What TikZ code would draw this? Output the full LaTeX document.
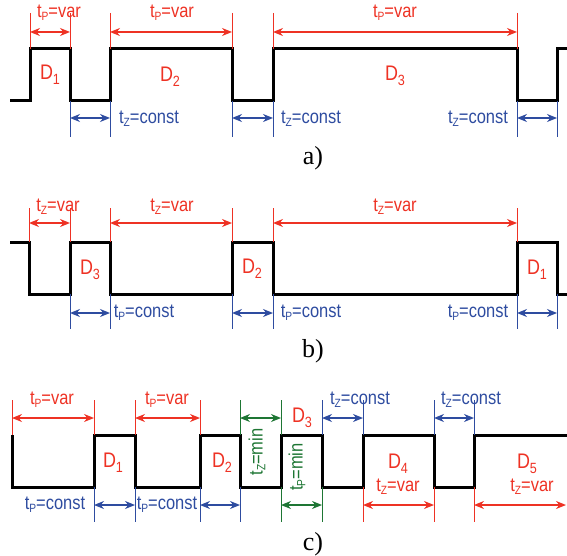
\documentclass[tikz,border=0pt]{standalone}
\usepackage{fontspec}
\usepackage{graphicx}
\usetikzlibrary{arrows.meta}
\newfontfamily\labfont{Liberation Sans}
\newfontfamily\capfont{Liberation Serif}
\definecolor{cred}{RGB}{238,50,36}
\definecolor{cblue}{RGB}{46,76,160}
\definecolor{cgreen}{RGB}{30,118,52}
\newcommand{\sbx}[1]{\raisebox{-0.14em}{\fontsize{10.5}{10.5}\selectfont #1}}
\newcommand{\dsb}[1]{\raisebox{-0.22em}{\fontsize{13}{13}\selectfont #1}}
\newcommand{\tallt}[1]{\scalebox{0.97}[1.14]{#1}}
\tikzset{
  wave/.style={line width=3pt, black, line join=miter},
  tk/.style={line width=0.9pt, draw=#1},
  darr/.style={line width=1.4pt, draw=#1, {Stealth[length=10pt,width=8pt]}-{Stealth[length=10pt,width=8pt]}},
  lbl/.style={font=\labfont\fontsize{17}{17}\selectfont, inner sep=0pt, text=#1},
  dlab/.style={font=\labfont\fontsize{18.5}{18.5}\selectfont, inner sep=0pt, text=cred},
  plab/.style={font=\capfont\fontsize{26}{26}\selectfont, inner sep=0pt},
}
\newcommand{\dimline}[6]{%
  \coordinate (#2L) at (#3,#5); \coordinate (#2R) at (#4,#5);
  \draw[darr=#1] (#2L) -- (#2R);}
\begin{document}
\begin{tikzpicture}[x=1pt,y=-1pt]
\useasboundingbox (0,0) rectangle (567,556);
% ---------------- a)
\draw[wave] (10,101) -- (30,101) -- (30,49) -- (70,49) -- (70,101) -- (110,101) -- (110,49) -- (232,49) -- (232,101) -- (273,101) -- (273,49) -- (517,49) -- (517,101) -- (557,101) -- (557,49) -- (567,49);
\foreach \x in {30,70,110,232,273,517} \draw[tk=cred] (\x,13) -- (\x,49);
\foreach \x in {70,110,232,273,517,557} \draw[tk=cblue] (\x,101) -- (\x,137);
\dimline{cred}{ar1}{30}{70}{32}{}
\dimline{cred}{ar2}{110}{232}{32}{}
\dimline{cred}{ar3}{273}{517}{32}{}
\dimline{cblue}{ab1}{70}{110}{118}{}
\dimline{cblue}{ab2}{232}{273}{118}{}
\dimline{cblue}{ab3}{517}{557}{118}{}
\node[lbl=cred] (atp1) at (59,13) {\tallt{t\sbx{P}=var}};
\node[lbl=cred] (atp2) at (172,13) {\tallt{t\sbx{P}=var}};
\node[lbl=cred] (atp3) at (395,13) {\tallt{t\sbx{P}=var}};
\node[lbl=cblue] (atz1) at (149,119) {\tallt{t\sbx{Z}=const}};
\node[lbl=cblue] (atz2) at (311,119) {\tallt{t\sbx{Z}=const}};
\node[lbl=cblue] (atz3) at (478,119) {\tallt{t\sbx{Z}=const}};
\node[dlab] (aD1) at (50,75) {\tallt{D\dsb{1}}};
\node[dlab] (aD2) at (170,77) {\tallt{D\dsb{2}}};
\node[dlab] (aD3) at (395,76) {\tallt{D\dsb{3}}};
\node[plab] (capa) at (313,158) {a)};
% ---------------- b)
\draw[wave] (10,242) -- (29,242) -- (29,294) -- (70,294) -- (70,242) -- (110,242) -- (110,294) -- (232,294) -- (232,242) -- (273,242) -- (273,294) -- (517,294) -- (517,242) -- (557,242) -- (557,294) -- (567,294);
\foreach \x in {29,70,110,232,273,517} \draw[tk=cred] (\x,208) -- (\x,242);
\foreach \x in {70,110,232,273,517,557} \draw[tk=cblue] (\x,294) -- (\x,329);
\dimline{cred}{br1}{29}{70}{223}{}
\dimline{cred}{br2}{110}{232}{223}{}
\dimline{cred}{br3}{273}{517}{223}{}
\dimline{cblue}{bb1}{70}{110}{313}{}
\dimline{cblue}{bb2}{232}{273}{313}{}
\dimline{cblue}{bb3}{517}{557}{313}{}
\node[lbl=cred] (btz1) at (58,207) {\tallt{t\sbx{Z}=var}};
\node[lbl=cred] (btz2) at (172,207) {\tallt{t\sbx{Z}=var}};
\node[lbl=cred] (btz3) at (395,207) {\tallt{t\sbx{Z}=var}};
\node[lbl=cblue] (btp1) at (144,313) {\tallt{t\sbx{P}=const}};
\node[lbl=cblue] (btp2) at (311,313) {\tallt{t\sbx{P}=const}};
\node[lbl=cblue] (btp3) at (478,313) {\tallt{t\sbx{P}=const}};
\node[dlab] (bD3) at (90,270) {\tallt{D\dsb{3}}};
\node[dlab] (bD2) at (252,269) {\tallt{D\dsb{2}}};
\node[dlab] (bD1) at (537,270) {\tallt{D\dsb{1}}};
\node[plab] (capb) at (313,351) {b)};
% ---------------- c)
\draw[wave] (12,435) -- (12,487) -- (94,487) -- (94,435) -- (135,435) -- (135,487) -- (200,487) -- (200,435) -- (240,435) -- (240,487) -- (281,487) -- (281,435) -- (322,435) -- (322,487) -- (363,487) -- (363,435) -- (434,435) -- (434,487) -- (474,487) -- (474,435) -- (567,435);
\foreach \x in {12,94,135,200} \draw[tk=cred] (\x,400) -- (\x,435);
\foreach \x in {240,281} \draw[tk=cgreen] (\x,400) -- (\x,435);
\foreach \x in {322,363,434,474} \draw[tk=cblue] (\x,400) -- (\x,435);
\foreach \x in {94,135,200,240} \draw[tk=cblue] (\x,487) -- (\x,522);
\foreach \x in {281,322} \draw[tk=cgreen] (\x,487) -- (\x,522);
\foreach \x in {363,434,474} \draw[tk=cred] (\x,487) -- (\x,522);
\dimline{cred}{cr1}{12}{94}{418}{}
\dimline{cred}{cr2}{135}{200}{418}{}
\dimline{cgreen}{cg1}{240}{281}{418}{}
\dimline{cblue}{cb3}{322}{363}{418}{}
\dimline{cblue}{cb4}{434}{474}{418}{}
\dimline{cblue}{cb1}{94}{135}{505}{}
\dimline{cblue}{cb2}{200}{240}{505}{}
\dimline{cgreen}{cg2}{281}{322}{505}{}
\dimline{cred}{cr3}{363}{434}{505}{}
\dimline{cred}{cr4}{474}{566}{505}{}
\node[lbl=cred] (ctp1) at (52,400) {\tallt{t\sbx{P}=var}};
\node[lbl=cred] (ctp2) at (167,400) {\tallt{t\sbx{P}=var}};
\node[lbl=cblue] (ctc1) at (55,505) {\tallt{t\sbx{P}=const}};
\node[lbl=cblue] (ctc2) at (167,505) {\tallt{t\sbx{P}=const}};
\node[lbl=cblue] (ctz1) at (360,400) {\tallt{t\sbx{Z}=const}};
\node[lbl=cblue] (ctz2) at (471,400) {\tallt{t\sbx{Z}=const}};
\node[lbl=cred] (ctv1) at (398,487) {\tallt{t\sbx{Z}=var}};
\node[lbl=cred] (ctv2) at (532,487) {\tallt{t\sbx{Z}=var}};
\node[lbl=cgreen, rotate=90] (czm) at (257,452) {\tallt{t\sbx{Z}=min}};
\node[lbl=cgreen, rotate=90] (cpm) at (297,467) {\tallt{t\sbx{P}=min}};
\node[dlab] (cD1) at (113,463) {\tallt{D\dsb{1}}};
\node[dlab] (cD2) at (222,463) {\tallt{D\dsb{2}}};
\node[dlab] (cD3) at (302,418) {\tallt{D\dsb{3}}};
\node[dlab] (cD4) at (398,464) {\tallt{D\dsb{4}}};
\node[dlab] (cD5) at (527,464) {\tallt{D\dsb{5}}};
\node[plab] (capc) at (313,544) {c)};
\end{tikzpicture}
\end{document}
